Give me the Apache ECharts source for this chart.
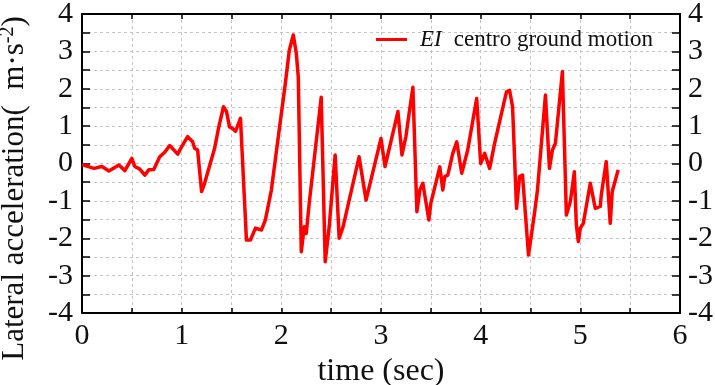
<!DOCTYPE html>
<html>
<head>
<meta charset="utf-8">
<script src="https://cdn.jsdelivr.net/npm/echarts@6/dist/echarts.min.js"></script>
<style>
  html, body { margin: 0; padding: 0; background: #fff; }
  #chart { width: 715px; height: 385px; }
</style>
</head>
<body>
<div id="chart"></div>
<script>
const seriesName = 'EI centro ground motion';

const times = [
  0.00, 0.12, 0.20, 0.27, 0.37, 0.43, 0.50, 0.53, 0.58, 0.63, 0.67, 0.72,
  0.78, 0.83, 0.88, 0.96, 1.00, 1.06, 1.11, 1.13, 1.16, 1.20, 1.23, 1.33,
  1.37, 1.42, 1.45, 1.48, 1.51, 1.54, 1.59, 1.65, 1.69, 1.74, 1.80, 1.84,
  1.90, 1.97, 2.04, 2.08, 2.12, 2.15, 2.17, 2.20, 2.23, 2.25, 2.28, 2.40,
  2.44, 2.48, 2.50, 2.54, 2.58, 2.62, 2.78, 2.85, 3.00, 3.04, 3.06, 3.17,
  3.21, 3.25, 3.28, 3.32, 3.36, 3.39, 3.42, 3.48, 3.50, 3.59, 3.62, 3.64,
  3.67, 3.72, 3.76, 3.81, 3.87, 3.96, 4.00, 4.04, 4.09, 4.14, 4.24, 4.26,
  4.29, 4.32, 4.36, 4.39, 4.42, 4.48, 4.54, 4.57, 4.65, 4.69, 4.71, 4.72,
  4.75, 4.82, 4.86, 4.90, 4.94, 4.96, 4.98, 5.00, 5.03, 5.10, 5.15, 5.20,
  5.21, 5.26, 5.30, 5.32, 5.38
];

const accel = [
  -0.03, -0.13, -0.08, -0.20, -0.04, -0.19, 0.14, -0.08, -0.15, -0.31, -0.17, -0.16,
  0.18, 0.30, 0.48, 0.25, 0.45, 0.72, 0.58, 0.41, 0.36, -0.75, -0.53, 0.40,
  0.95, 1.52, 1.39, 0.98, 0.94, 0.86, 1.21, -2.05, -2.05, -1.73, -1.78, -1.51,
  -0.71, 0.72, 2.14, 3.03, 3.44, 2.95, 2.32, -2.36, -1.69, -1.87, -1.06, 1.77,
  -2.63, -1.70, -1.75, 0.23, -2.00, -1.69, 0.18, -0.98, 0.67, -0.08, 0.14, 1.39,
  0.23, 0.72, 1.30, 2.04, -1.29, -0.71, -0.53, -1.51, -1.06, -0.09, -0.71, -0.35,
  -0.31, 0.27, 0.58, -0.26, 0.36, 1.74, 0.00, 0.27, -0.13, 0.54, 1.70, 1.92,
  1.96, 1.52, -1.20, -0.35, -0.31, -2.45, -1.33, -0.71, 1.83, -0.13, -0.17, 0.36,
  0.54, 2.46, -1.38, -1.02, -0.22, -1.64, -2.09, -1.73, -1.60, -0.53, -1.20, -1.15,
  -0.84, 0.05, -1.60, -0.75, -0.17
];

const serif = 'Liberation Serif';
const gridLine = {show: true, lineStyle: {color: '#c4c4c4', type: [3, 3], width: 1}};
const tickStyle = {color: '#000', width: 1.5};

const chart = echarts.init(document.getElementById('chart'));
chart.setOption({
  animation: false,
  backgroundColor: '#fff',
  grid: {left: 82, right: 35, top: 14, bottom: 72, containLabel: false, outerBoundsMode: 'none'},
  legend: {
    left: 371,
    top: 23,
    icon: 'rect',
    itemWidth: 31,
    itemHeight: 3,
    data: [seriesName],
    formatter() {
      return '{i|EI}{t|centro ground motion}';
    },
    textStyle: {
      rich: {
        i: {fontFamily: serif, fontStyle: 'italic', fontSize: 23, color: '#111', padding: [0, 0, 0, 8]},
        t: {fontFamily: serif, fontSize: 23, color: '#111', padding: [0, 0, 0, 12]}
      }
    }
  },
  xAxis: [{
    type: 'value',
    min: 0,
    max: 6,
    interval: 1,
    name: 'time (sec)',
    nameLocation: 'middle',
    nameGap: 43,
    nameTextStyle: {fontFamily: serif, fontSize: 32, color: '#111'},
    axisLine: {show: true, onZero: false, lineStyle: {color: '#000', width: 2}},
    axisTick: {inside: true, length: 5, lineStyle: tickStyle},
    minorTick: {show: true, splitNumber: 2, length: 5, lineStyle: tickStyle},
    axisLabel: {fontFamily: serif, fontSize: 30, color: '#111', margin: 8},
    splitLine: gridLine,
    minorSplitLine: gridLine
  }, {
    type: 'value',
    position: 'top',
    min: 0,
    max: 6,
    interval: 1,
    axisLine: {show: true, onZero: false, lineStyle: {color: '#000', width: 2}},
    axisTick: {inside: true, length: 5, lineStyle: tickStyle},
    minorTick: {show: true, splitNumber: 2, length: 5, lineStyle: tickStyle},
    axisLabel: {show: false},
    splitLine: {show: false}
  }],
  yAxis: [{
    type: 'value',
    min: -4,
    max: 4,
    interval: 1,
    name: '{n|Lateral acceleration(  m·s}{s|-2}{n|)}',
    nameLocation: 'middle',
    nameRotate: 90,
    nameGap: 50,
    nameTextStyle: {
      padding: [0, 50, 0, 0],
      rich: {
        n: {fontFamily: serif, fontSize: 31, color: '#111'},
        s: {fontFamily: serif, fontSize: 20, color: '#111', verticalAlign: 'top', padding: [0, 0, 14, 0]}
      }
    },
    axisLine: {show: true, onZero: false, lineStyle: {color: '#000', width: 2}},
    axisTick: {inside: true, length: 8, lineStyle: tickStyle},
    minorTick: {show: true, splitNumber: 2, length: 8, lineStyle: tickStyle},
    axisLabel: {fontFamily: serif, fontSize: 30, color: '#111', margin: 9},
    splitLine: gridLine,
    minorSplitLine: gridLine
  }, {
    type: 'value',
    position: 'right',
    min: -4,
    max: 4,
    interval: 1,
    axisLine: {show: true, onZero: false, lineStyle: {color: '#000', width: 2}},
    axisTick: {inside: true, length: 8, lineStyle: tickStyle},
    minorTick: {show: true, splitNumber: 2, length: 8, lineStyle: tickStyle},
    axisLabel: {fontFamily: serif, fontSize: 30, color: '#111', margin: 8},
    splitLine: {show: false}
  }],
  series: [{
    name: seriesName,
    type: 'line',
    xAxisIndex: 0,
    yAxisIndex: 0,
    data: times.map((t, i) => [t, accel[i]]),
    symbol: 'none',
    showSymbol: false,
    color: '#ff0000',
    lineStyle: {color: '#ff0000', width: 3.5, join: 'round'}
  }]
});
</script>
</body>
</html>
